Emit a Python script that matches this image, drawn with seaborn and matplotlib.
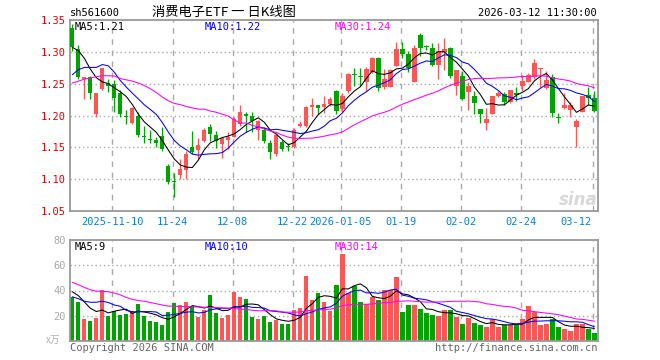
import numpy as np
import pandas as pd
import matplotlib
matplotlib.use("Agg")
import matplotlib.pyplot as plt
import matplotlib.transforms as mtransforms
import seaborn as sns

# ==========================================
# 数据 (从图上读出的日K数据, 88 个交易日)
# ==========================================
opens = [1.338, 1.305, 1.257, 1.260, 1.202, 1.242, 1.251, 1.250, 1.235, 1.199,
         1.188, 1.199, 1.168, 1.163, 1.161, 1.168, 1.121, 1.097, 1.107, 1.114,
         1.150, 1.146, 1.160, 1.182, 1.170, 1.156, 1.161, 1.167, 1.186, 1.203,
         1.199, 1.177, 1.177, 1.157, 1.139, 1.159, 1.152, 1.150, 1.184, 1.184,
         1.214, 1.217, 1.214, 1.218, 1.238, 1.210, 1.238, 1.264, 1.261, 1.252,
         1.268, 1.290, 1.244, 1.245, 1.278, 1.305, 1.296, 1.253, 1.327, 1.309,
         1.306, 1.280, 1.299, 1.306, 1.246, 1.262, 1.237, 1.231, 1.210, 1.189,
         1.203, 1.230, 1.234, 1.221, 1.236, 1.246, 1.253, 1.260, 1.273, 1.243,
         1.261, 1.197, 1.212, 1.209, 1.182, 1.206, 1.232, 1.227]
highs = [1.344, 1.311, 1.261, 1.262, 1.236, 1.275, 1.258, 1.255, 1.240, 1.208,
         1.213, 1.205, 1.184, 1.177, 1.166, 1.182, 1.124, 1.109, 1.132, 1.145,
         1.176, 1.164, 1.180, 1.186, 1.175, 1.165, 1.174, 1.197, 1.217, 1.205,
         1.205, 1.193, 1.182, 1.161, 1.172, 1.162, 1.157, 1.180, 1.191, 1.215,
         1.227, 1.217, 1.231, 1.229, 1.240, 1.235, 1.266, 1.275, 1.275, 1.276,
         1.292, 1.292, 1.273, 1.273, 1.316, 1.315, 1.302, 1.310, 1.329, 1.311,
         1.314, 1.314, 1.322, 1.307, 1.272, 1.270, 1.252, 1.239, 1.210, 1.212,
         1.231, 1.238, 1.237, 1.240, 1.245, 1.264, 1.266, 1.289, 1.275, 1.270,
         1.265, 1.204, 1.235, 1.221, 1.195, 1.231, 1.245, 1.238]
lows = [1.301, 1.257, 1.226, 1.226, 1.198, 1.240, 1.237, 1.205, 1.198, 1.187,
        1.186, 1.167, 1.157, 1.157, 1.150, 1.145, 1.093, 1.072, 1.101, 1.101,
        1.140, 1.132, 1.158, 1.160, 1.149, 1.134, 1.148, 1.166, 1.184, 1.174,
        1.174, 1.161, 1.157, 1.131, 1.137, 1.145, 1.145, 1.149, 1.182, 1.182,
        1.200, 1.202, 1.204, 1.215, 1.202, 1.206, 1.236, 1.247, 1.247, 1.239,
        1.266, 1.238, 1.242, 1.244, 1.277, 1.290, 1.268, 1.252, 1.293, 1.303,
        1.277, 1.257, 1.272, 1.259, 1.232, 1.225, 1.209, 1.203, 1.188, 1.177,
        1.202, 1.229, 1.217, 1.220, 1.222, 1.238, 1.252, 1.258, 1.244, 1.241,
        1.198, 1.188, 1.210, 1.197, 1.150, 1.205, 1.217, 1.205]
closes = [1.307, 1.260, 1.260, 1.235, 1.235, 1.274, 1.246, 1.228, 1.203, 1.198,
          1.212, 1.170, 1.167, 1.162, 1.157, 1.147, 1.096, 1.096, 1.116, 1.140,
          1.143, 1.154, 1.178, 1.171, 1.160, 1.164, 1.166, 1.195, 1.205, 1.200,
          1.191, 1.191, 1.160, 1.142, 1.170, 1.147, 1.151, 1.178, 1.186, 1.214,
          1.217, 1.212, 1.218, 1.226, 1.207, 1.231, 1.265, 1.263, 1.260, 1.273,
          1.290, 1.243, 1.257, 1.272, 1.304, 1.296, 1.275, 1.306, 1.306, 1.308,
          1.280, 1.301, 1.305, 1.262, 1.271, 1.226, 1.246, 1.219, 1.203, 1.194,
          1.231, 1.235, 1.221, 1.240, 1.232, 1.254, 1.264, 1.282, 1.275, 1.255,
          1.204, 1.196, 1.217, 1.216, 1.192, 1.230, 1.228, 1.207]
# 成交量 (万)
volumes = [34.7, 30.9, 17.3, 15.7, 18.1, 40.5, 19.7, 24.0, 20.5, 21.3,
           23.7, 29.3, 20.0, 15.7, 14.9, 12.5, 22.9, 30.1, 28.5, 30.9,
           27.7, 18.9, 24.5, 36.5, 22.1, 18.1, 20.5, 38.9, 34.9, 33.3,
           18.9, 17.3, 20.0, 14.9, 16.5, 13.3, 13.3, 24.5, 26.1, 51.7,
           32.5, 38.1, 30.9, 23.7, 44.5, 69.3, 37.9, 43.7, 30.9, 29.3,
           34.9, 32.5, 40.5, 40.5, 50.4, 22.9, 28.5, 28.5, 25.3, 22.1,
           20.5, 19.7, 24.5, 24.5, 18.9, 13.3, 18.1, 14.1, 12.5, 10.9,
           17.3, 10.9, 12.5, 12.5, 13.3, 17.3, 27.7, 22.7, 12.5, 13.3,
           17.3, 10.9, 9.3, 7.7, 13.3, 13.3, 9.3, 6.1]

# 窗口开头 (早于图中数据) 的均线值, 直接从图上读出
price_ma5_head = [1.307, 1.302, 1.290, 1.273]
price_ma10_head = [1.264, 1.272, 1.2755, 1.2755, 1.2755, 1.280, 1.278, 1.268, 1.255]
price_ma30_head = [1.251, 1.254, 1.257, 1.259, 1.261, 1.2625, 1.2625, 1.262, 1.258, 1.256,
                   1.254, 1.251, 1.247, 1.242, 1.236, 1.229, 1.223, 1.219, 1.217, 1.214,
                   1.212, 1.210, 1.210, 1.207, 1.205, 1.202, 1.199, 1.193, 1.188]
vol_ma5_head = [39.0, 36.0, 31.0, 26.0]
vol_ma10_head = [35.0, 33.5, 31.5, 30.7, 30.7, 31.5, 30.5, 28.5, 27.5]
vol_ma30_head = [46.5, 44.5, 42.5, 40.5, 39.5, 39.3, 39.0, 38.0, 36.5, 34.5,
                 33.0, 32.0, 31.5, 30.5, 29.5, 28.5, 27.7, 27.5, 27.3, 27.2,
                 27.0, 27.0, 26.8, 26.5, 26.5, 26.2, 26.0, 25.7, 25.3]

date_labels = ['2025-11-10', '11-24', '12-08', '12-22', '2026-01-05',
               '01-19', '02-02', '02-24', '03-12']
date_index = [7, 17, 27, 37, 45, 55, 65, 75, 87]

price_ticks = [1.05, 1.10, 1.15, 1.20, 1.25, 1.30, 1.35]
vol_ticks = [20, 40, 60, 80]
price_ma_text = ['MA5:1.21', 'MA10:1.22', 'MA30:1.24']
vol_ma_text = ['MA5:9', 'MA10:10', 'MA30:14']

# ==========================================
# 样式
# ==========================================
RED = '#ff5555'
GREEN = '#00a400'
MA_COLORS = ['#000000', '#0000ff', '#ff00ff']
GRID = '#aaaaaa'
SPINE = '#999999'

sns.set_theme(style="white")
plt.rcParams['font.family'] = ['DejaVu Sans Mono', 'Noto Sans CJK SC']
plt.rcParams['axes.unicode_minus'] = False

df = pd.DataFrame({'open': opens, 'high': highs, 'low': lows,
                   'close': closes, 'volume': volumes})
df['x'] = np.arange(len(df))
df['color'] = np.where(df['close'] >= df['open'], RED, GREEN)


def moving_avg(series, n, head):
    ma = series.rolling(n).mean()
    ma.iloc[:len(head)] = head
    return ma


price_mas = [moving_avg(df['close'], 5, price_ma5_head),
             moving_avg(df['close'], 10, price_ma10_head),
             moving_avg(df['close'], 30, price_ma30_head)]
vol_mas = [moving_avg(df['volume'], 5, vol_ma5_head),
           moving_avg(df['volume'], 10, vol_ma10_head),
           moving_avg(df['volume'], 30, vol_ma30_head)]

W, H = 660, 360
fig = plt.figure(figsize=(W / 100, H / 100), dpi=100)
fig.patch.set_facecolor('white')


def px_axes(x0, y0, x1, y1):
    return fig.add_axes([x0 / W, 1 - y1 / H, (x1 - x0) / W, (y1 - y0) / H])


ax = px_axes(70, 20, 598, 211)
axv = px_axes(70, 240, 598, 341)
xlim = (-0.38, 87.6)

# ---------- K线 ----------
for y in price_ticks[1:-1]:
    ax.axhline(y, color=GRID, ls=(0, (1, 2)), lw=1, zorder=0)
for i in date_index:
    ax.axvline(i - 0.3, color=GRID, ls=(0, (4, 4)), lw=1, zorder=0)
    axv.axvline(i - 0.3, color=GRID, ls=(0, (4, 4)), lw=1, zorder=0)

body_bottom = df[['open', 'close']].min(axis=1)
body_height = (df['close'] - df['open']).abs().clip(lower=0.0015)
ax.vlines(df['x'], df['low'], df['high'], colors=df['color'], lw=0.9, zorder=2)
ax.bar(df['x'], body_height, bottom=body_bottom, width=0.72,
       color=df['color'], linewidth=0, zorder=3)

for ma, c in zip(price_mas, MA_COLORS):
    sns.lineplot(x=df['x'], y=ma, ax=ax, color=c, lw=0.75, zorder=4,
                 estimator=None, sort=False)

ax.set_xlim(*xlim)
ax.set_ylim(1.051, 1.35)
ax.set_yticks(price_ticks)
ax.set_yticklabels([f'{t:.2f}' for t in price_ticks], color='#e00000', fontsize=7.5)
ax.set_xticks([])
ax.set_xlabel('')
ax.set_ylabel('')
ax.tick_params(axis='y', length=0, pad=3)

# 日期标签
trans = mtransforms.blended_transform_factory(ax.transData, ax.transAxes)
for lab, i in zip(date_labels, date_index):
    if i == date_index[-1]:
        ax.text(i - 0.4, -0.055, lab, transform=trans, ha='right', va='center',
                color='#0a80dc', fontsize=7.5)
    else:
        ax.text(i - 0.3, -0.055, lab, transform=trans, ha='center', va='center',
                color='#0a80dc', fontsize=7.5)

# ---------- 成交量 ----------
for y in vol_ticks[:-1]:
    axv.axhline(y, color=GRID, ls=(0, (1, 2)), lw=1, zorder=0)
axv.bar(df['x'], df['volume'], width=0.72, color=df['color'], linewidth=0, zorder=2)
for ma, c in zip(vol_mas, MA_COLORS):
    sns.lineplot(x=df['x'], y=ma, ax=axv, color=c, lw=0.75, zorder=4,
                 estimator=None, sort=False)
axv.set_xlim(*xlim)
axv.set_ylim(0, 80)
axv.set_yticks(vol_ticks)
axv.set_yticklabels([str(t) for t in vol_ticks], color='#aaaaaa', fontsize=7.5)
axv.set_xticks([])
axv.set_xlabel('')
axv.set_ylabel('')
axv.tick_params(axis='y', length=0, pad=3)

for a in (ax, axv):
    for s in a.spines.values():
        s.set_color(SPINE)
        s.set_linewidth(1.3)
    a.set_facecolor('white')

# ---------- 文本 ----------
def ftext(x, y, s, **kw):
    fig.text(x / W, 1 - y / H, s, **kw)


ftext(70, 13, 'sh561600', ha='left', va='center', fontsize=7.5, color='black')
ftext(224, 12.5, '消费电子ETF 一 日K线图', ha='center', va='center', fontsize=9.5,
      color='black', family=['Noto Sans CJK SC', 'DejaVu Sans'])
ftext(597, 13, '2026-03-12 11:30:00', ha='right', va='center', fontsize=7.5, color='black')

for txt, c, x in zip(price_ma_text, MA_COLORS, [75, 205, 335]):
    ftext(x, 26.5, txt, ha='left', va='center', fontsize=7.5, color=c)
for txt, c, x in zip(vol_ma_text, MA_COLORS, [75, 205, 335]):
    ftext(x, 247, txt, ha='left', va='center', fontsize=7.5, color=c)

ftext(60, 340, 'x万', ha='right', va='center', fontsize=7, color='#b0b0b0',
      family=['Noto Sans CJK SC', 'DejaVu Sans'])
ftext(70, 348, 'Copyright 2026 SINA.COM', ha='left', va='center', fontsize=7.5, color='#666666')
ftext(597, 348, 'http://finance.sina.com.cn', ha='right', va='center', fontsize=7.5,
      color='#666666')
ftext(578, 200, 'sina', ha='center', va='center', fontsize=12, color='#d8d8d8',
      style='italic', weight='bold', family='DejaVu Sans')

fig.savefig('out.png', dpi=100, facecolor='white')
